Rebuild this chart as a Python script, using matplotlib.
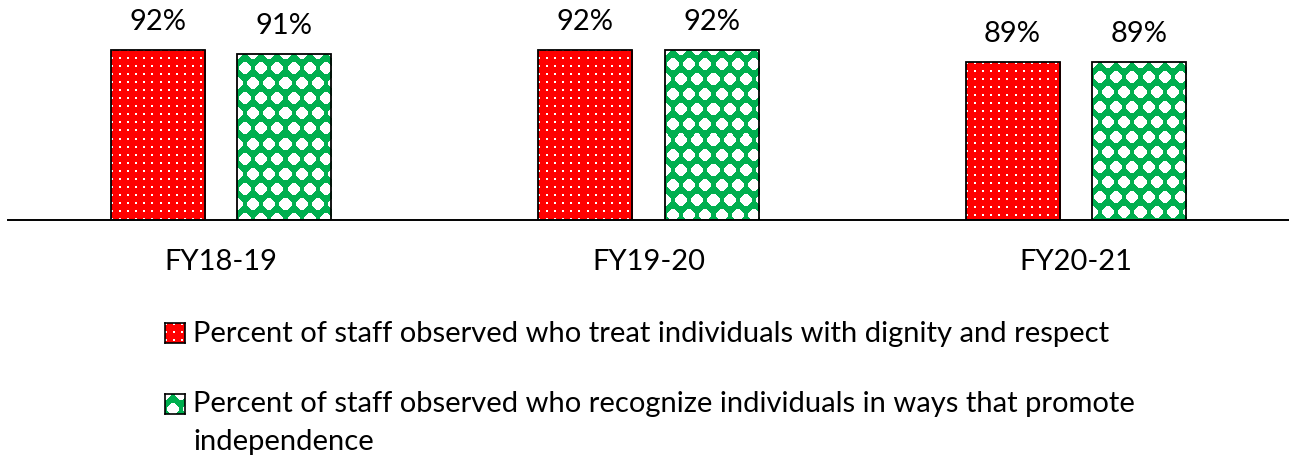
import numpy as np
import matplotlib
matplotlib.use("Agg")
import matplotlib.pyplot as plt

# ---- data -------------------------------------------------------------
years = ["FY18-19", "FY19-20", "FY20-21"]
dignity = [92, 92, 89]
independence = [91, 92, 89]
series_labels = [
    "Percent of staff observed who treat individuals with dignity and respect",
    "Percent of staff observed who recognize individuals in ways that promote\nindependence",
]

RED = (1.0, 0.0, 0.0)
GREEN = (0.0, 0.69, 0.31)
WHITE = (1.0, 1.0, 1.0)

plt.rcParams["font.family"] = ["Lato", "DejaVu Sans"]
FS = 21

W, H = 1289, 462
fig = plt.figure(figsize=(W / 100, H / 100), dpi=100)


def px_box(x0, y_top, w, h):
    """Figure-fraction box from pixel coordinates measured from the top-left."""
    return [x0 / W, 1 - (y_top + h) / H, w / W, h / H]


# ---- fill patterns ----------------------------------------------------
def dotted(h, w):
    yy, xx = np.mgrid[0:h, 0:w]
    img = np.empty((h, w, 3))
    img[:] = RED
    mask = ((xx % 8) < 2) & ((yy % 8) < 2)
    img[mask] = WHITE
    return img


def diamonds(h, w):
    yy, xx = np.mgrid[0:h, 0:w] + 0.5
    img = np.empty((h, w, 3))
    img[:] = GREEN
    mask = np.zeros((h, w), dtype=bool)
    for ox, oy in ((8, 15), (0, 0)):
        dx = np.abs(((xx + ox) % 16) - 8)
        dy = np.abs(((yy + oy) % 30) - 15)
        mask |= (dx + dy <= 7.0) & (dx <= 5.5) & (dy <= 6.0)
    img[mask] = WHITE
    return img


# ---- main axes --------------------------------------------------------
ax = fig.add_axes(px_box(7.5, 17.5, 1282, 202.5))
ax.set_xlim(-0.5, len(years) - 0.5)
ax.set_ylim(50, 100)

x = np.arange(len(years))
bw = 0.22
off = 0.148

series = [(dignity, -off, dotted), (independence, off, diamonds)]
for values, shift, pattern in series:
    bars = ax.bar(x + shift, [v - 50 for v in values], bw, bottom=50,
                  facecolor="none", edgecolor="black", linewidth=1.3, zorder=3)
    for bar, v in zip(bars, values):
        x0, y0 = bar.get_x(), bar.get_y()
        x1, y1 = x0 + bar.get_width(), y0 + bar.get_height()
        (px0, py0), (px1, py1) = ax.transData.transform([(x0, y0), (x1, y1)])
        img = pattern(max(int(round(py1 - py0)), 1), max(int(round(px1 - px0)), 1))
        im = ax.imshow(img, extent=[x0, x1, y0, y1], origin="upper",
                       interpolation="nearest", aspect="auto", zorder=2)
        im.set_clip_path(bar)
        ax.annotate(f"{v}%", (bar.get_x() + bar.get_width() / 2, v),
                    xytext=(0, 14.4), textcoords="offset points",
                    ha="center", va="baseline", fontsize=FS, color="black")

ax.set_xlim(-0.5, len(years) - 0.5)
ax.set_ylim(50, 100)
ax.set_xticks(x, years)
ax.tick_params(axis="x", length=0, pad=21, labelsize=FS)
ax.set_yticks([])
for side in ("top", "left", "right"):
    ax.spines[side].set_visible(False)
ax.spines["bottom"].set_linewidth(1.4)
ax.spines["bottom"].set_zorder(4)

# ---- legend -----------------------------------------------------------
legend_rows = [(dotted, 323, [342]), (diamonds, 394, [412, 450])]
for (pattern, sq_top, baselines), label in zip(legend_rows, series_labels):
    sq = fig.add_axes(px_box(165, sq_top, 20, 20))
    sq.imshow(pattern(20, 20), interpolation="nearest", aspect="auto")
    sq.set_xticks([])
    sq.set_yticks([])
    for s in sq.spines.values():
        s.set_linewidth(1.2)
        s.set_color("black")
    for line, base in zip(label.split("\n"), baselines):
        fig.text(193 / W, 1 - base / H, line, ha="left", va="baseline",
                 fontsize=FS, color="black")

fig.savefig("out.png", dpi=100)
